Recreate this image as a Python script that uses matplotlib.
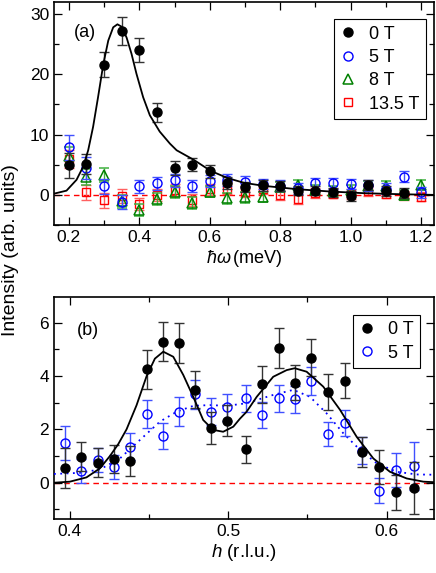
import numpy as np
import matplotlib
matplotlib.use("Agg")
import matplotlib.pyplot as plt
from matplotlib.ticker import MultipleLocator

plt.rcParams['font.family'] = ['Liberation Sans', 'DejaVu Sans']
plt.rcParams['mathtext.fontset'] = 'custom'
plt.rcParams['mathtext.rm'] = 'Liberation Sans'
plt.rcParams['mathtext.it'] = 'Liberation Sans:italic'

# ---- panel (a): energy scans ----
E_0T = [0.20, 0.25, 0.30, 0.35, 0.40, 0.45, 0.50, 0.55, 0.60, 0.65,
        0.70, 0.75, 0.80, 0.85, 0.90, 0.95, 1.00, 1.05, 1.10, 1.15]
I_0T = [4.9, 5.1, 21.6, 27.2, 24.0, 13.7, 4.5, 5.0, 3.9, 1.9,
        1.3, 1.6, 1.5, 0.7, 0.7, 0.4, -0.2, 1.6, 0.6, 0.3]
err_0T = [2.1, 1.6, 2.1, 2.3, 2.0, 1.6, 1.2, 1.1, 1.1, 1.0,
          0.9, 0.9, 0.8, 0.8, 0.8, 0.8, 0.8, 0.8, 0.8, 0.8]

E_fld = [0.20, 0.25, 0.30, 0.35, 0.40, 0.45, 0.50, 0.55, 0.60, 0.65, 0.70,
         0.75, 0.80, 0.85, 0.90, 0.95, 1.00, 1.05, 1.10, 1.15, 1.20]
I_5T = [7.9, 4.5, 1.4, -1.2, 1.4, 1.9, 2.4, 1.5, 2.3, 2.4, 2.2,
        1.8, 1.5, 1.1, 1.9, 1.9, 1.8, 1.6, 1.0, 3.0, 0.4]
err_5T = [2.1, 1.8, 1.3, 1.2, 1.1, 1.1, 1.1, 1.0, 1.0, 1.0, 0.9,
          0.9, 0.9, 0.9, 0.9, 0.9, 0.9, 0.9, 0.9, 0.9, 0.9]
I_8T = [6.4, 3.0, 3.3, -1.1, -2.5, -0.7, 0.5, -1.3, 0.5, -0.6, -0.4,
        -0.4, 1.3, 1.6, 0.8, 0.6, 0.8, 1.5, 1.5, 0.0, 1.7]
err_8T = [1.5, 1.3, 1.2, 1.1, 1.0, 1.0, 1.0, 1.0, 0.9, 0.9, 0.9,
          0.8, 0.8, 0.8, 0.8, 0.8, 0.8, 0.8, 0.8, 0.8, 0.8]
I_135T = [6.0, 0.4, -0.9, -0.2, -1.5, 0.0, 0.8, -0.9, 0.9, 1.0, 0.5,
          0.9, 0.0, -0.7, 0.3, 0.2, 0.1, 0.6, 0.2, -0.1, -0.3]
err_135T = [1.5, 1.3, 1.2, 1.1, 1.0, 1.0, 1.0, 1.0, 0.9, 0.9, 0.9,
            0.8, 0.8, 0.8, 0.8, 0.8, 0.8, 0.8, 0.8, 0.8, 0.8]

# fit line
fitE = [0.158, 0.1935, 0.222, 0.241, 0.255, 0.269, 0.283, 0.298, 0.312, 0.326,
        0.338, 0.35, 0.364, 0.378, 0.392, 0.411, 0.43, 0.458, 0.487, 0.506,
        0.555, 0.602, 0.65, 0.697, 0.753, 0.848, 0.943, 1.037, 1.132, 1.235]
fitI = [0.2, 0.7, 2.5, 4.7, 7.4, 11.3, 16.2, 21.7, 25.6, 27.8,
        28.3, 27.9, 26.1, 23.4, 20.1, 16.2, 13.2, 10.5, 8.5, 7.4,
        5.8, 4.0, 2.8, 2.0, 1.5, 0.94, 0.55, 0.28, 0.12, 0.0]

# ---- panel (b): momentum scans ----
h = [0.397, 0.407, 0.4175, 0.428, 0.438, 0.4485, 0.459, 0.469, 0.479, 0.489, 0.4995,
     0.511, 0.5215, 0.532, 0.542, 0.552, 0.563, 0.5735, 0.5845, 0.5955, 0.606, 0.617]
Ih_0T = [0.54, 0.98, 0.75, 0.88, 0.81, 4.25, 5.29, 5.25, 3.48, 2.04, 2.33,
         1.25, 3.69, 5.04, 3.75, 4.69, 3.39, 3.83, 1.14, 0.60, -0.36, -0.19]
errh_0T = [0.75, 0.55, 0.55, 0.52, 0.55, 0.72, 0.73, 0.75, 0.69, 0.60, 0.59,
           0.51, 0.69, 0.75, 0.66, 0.70, 0.67, 0.65, 0.56, 0.63, 0.66, 0.98]
Ih_5T = [1.48, 0.45, 0.86, 0.6, 1.35, 2.58, 1.75, 2.66, 3.31, 2.66, 2.83,
         3.16, 2.54, 3.16, 3.13, 3.81, 1.83, 2.23, 1.2, -0.3, 0.48, 0.62]
errh_5T = [0.64, 0.45, 0.45, 0.45, 0.5, 0.52, 0.5, 0.54, 0.55, 0.5, 0.5,
           0.5, 0.5, 0.5, 0.5, 0.52, 0.45, 0.48, 0.5, 0.46, 0.63, 0.9]

fit0_h = [0.39, 0.4, 0.4105, 0.419, 0.4253, 0.4306, 0.4358, 0.4421, 0.4485, 0.4537,
          0.459, 0.4653, 0.4716, 0.4779, 0.4842, 0.4905, 0.4968, 0.5032, 0.5074, 0.5116,
          0.518, 0.5284, 0.5369, 0.542, 0.5495, 0.56, 0.5706, 0.5811, 0.5916, 0.6021,
          0.6127, 0.6232, 0.63]
fit0_I = [0.0, 0.04, 0.2, 0.54, 1.0, 1.45, 2.0, 2.9, 4.0, 4.65,
          4.91, 4.72, 4.04, 3.22, 2.35, 1.98, 1.91, 2.1, 2.4, 2.66,
          3.22, 3.97, 4.22, 4.29, 4.16, 3.6, 2.73, 1.72, 0.91, 0.41,
          0.16, 0.04, 0.02]
fit5_h = [0.39, 0.4063, 0.419, 0.4316, 0.4442, 0.4569, 0.4674, 0.4779, 0.4884, 0.499,
          0.5116, 0.518, 0.5284, 0.5411, 0.5516, 0.5621, 0.5727, 0.5832, 0.5937, 0.6064,
          0.619, 0.63]
fit5_I = [0.33, 0.37, 0.5, 0.91, 1.6, 2.29, 2.66, 2.88, 2.91, 2.88,
          2.98, 3.1, 3.29, 3.48, 3.22, 2.6, 1.85, 1.23, 0.73, 0.41,
          0.31, 0.3]

W, H = 436, 573
fig = plt.figure(figsize=(W / 100, H / 100), dpi=100)
axa = fig.add_axes([54 / W, 1 - 225 / H, 379.5 / W, 223 / H])
axb = fig.add_axes([54 / W, 1 - 519.3 / H, 379.5 / W, 222.6 / H])

ms = 6.5
legkw = dict(loc='upper right', borderaxespad=0, fontsize=13, handlelength=0.9,
             handletextpad=0.7, labelspacing=0.35, borderpad=0.35, fancybox=False,
             framealpha=1, edgecolor='black')

# (a)
axa.axhline(0, color='red', lw=1, ls=(0, (4, 3)), zorder=1)
r = axa.errorbar(E_fld, I_135T, yerr=err_135T, fmt='s', ms=ms - 0.5, mfc='none', mec='red',
                 mew=1, ecolor='#ff6060', elinewidth=1, capsize=3.5, zorder=2)
g = axa.errorbar(E_fld, I_8T, yerr=err_8T, fmt='^', ms=ms + 0.5, mfc='none', mec='green',
                 mew=1.1, ecolor='#40b040', elinewidth=1, capsize=3.5, zorder=3)
b = axa.errorbar(E_fld, I_5T, yerr=err_5T, fmt='o', ms=ms, mfc='none', mec='blue',
                 mew=1, ecolor='#4050ff', elinewidth=1, capsize=3.5, zorder=4)
k = axa.errorbar(E_0T, I_0T, yerr=err_0T, fmt='o', ms=ms, color='black',
                 ecolor='#333333', elinewidth=1, capsize=3.5, zorder=5)
axa.plot(fitE, fitI, color='black', lw=1.3, zorder=6)
axa.set_xlim(0.158, 1.235)
axa.set_ylim(-5, 32)
axa.xaxis.set_major_locator(MultipleLocator(0.2))
axa.xaxis.set_minor_locator(MultipleLocator(0.1))
axa.yaxis.set_major_locator(MultipleLocator(10))
axa.yaxis.set_minor_locator(MultipleLocator(5))
axa.set_xlabel(r'$\hbar\omega\,$(meV)', fontsize=13, labelpad=2)
axa.text(0.053, 0.843, '(a)', transform=axa.transAxes, fontsize=13, va='baseline')
leg = axa.legend([k[0], b[0], g[0], r[0]], ['0 T', '5 T', '8 T', '13.5 T'],
                 bbox_to_anchor=(0.98, 0.922), **legkw)
leg.get_frame().set_linewidth(0.8)

# (b)
axb.axhline(0, color='red', lw=1, ls=(0, (4, 3)), zorder=1)
b2 = axb.errorbar(h, Ih_5T, yerr=errh_5T, fmt='o', ms=ms, mfc='none', mec='blue',
                  mew=1, ecolor='#4050ff', elinewidth=1, capsize=3.5, zorder=4)
k2 = axb.errorbar(h, Ih_0T, yerr=errh_0T, fmt='o', ms=ms, color='black',
                  ecolor='#333333', elinewidth=1, capsize=3.5, zorder=5)
axb.plot(fit5_h, fit5_I, color='blue', lw=1.3, ls=(0, (1, 2.5)), zorder=3)
axb.plot(fit0_h, fit0_I, color='black', lw=1.3, zorder=6)
axb.set_xlim(0.39, 0.6296)
axb.set_ylim(-1.37, 6.97)
axb.xaxis.set_major_locator(MultipleLocator(0.1))
axb.xaxis.set_minor_locator(MultipleLocator(0.05))
axb.yaxis.set_major_locator(MultipleLocator(2))
axb.yaxis.set_minor_locator(MultipleLocator(1))
axb.set_xlabel(r'$h$ (r.l.u.)', fontsize=13.5, labelpad=2)
axb.text(0.06, 0.828, '(b)', transform=axb.transAxes, fontsize=13, va='baseline')
leg2 = axb.legend([k2[0], b2[0]], ['0 T', '5 T'],
                  bbox_to_anchor=(0.964, 0.918), **legkw)
leg2.get_frame().set_linewidth(0.8)

for ax in (axa, axb):
    ax.tick_params(which='both', direction='in', top=True, right=True, labelsize=12.5, width=0.9)
    ax.tick_params(which='major', length=6)
    ax.tick_params(which='minor', length=3.5)
    for s in ax.spines.values():
        s.set_linewidth(1.2)

fig.text(11 / W, 1 - 250 / H, 'Intensity (arb. units)', rotation=90,
         ha='center', va='center', fontsize=14)

fig.savefig('out.png', dpi=100)
